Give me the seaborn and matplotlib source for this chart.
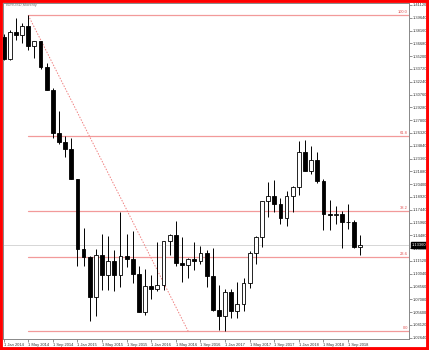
import matplotlib
matplotlib.use("Agg")
import matplotlib.pyplot as plt
from matplotlib.patches import Rectangle
import numpy as np
import pandas as pd
import seaborn as sns

# ---- data (EURUSD monthly candles, Jan 2014 .. Nov 2018) ----
months = pd.date_range("2014-01-01", "2018-11-01", freq="MS")
opens = [1.3743, 1.3486, 1.3804, 1.3769, 1.3868, 1.3634, 1.3692, 1.3390, 1.3131, 1.2630, 1.2525, 1.2450,
         1.2098, 1.1290, 1.1197, 1.0731, 1.1224, 1.0987, 1.1147, 1.0985, 1.1213, 1.1177, 1.1004, 1.0564,
         1.0861, 1.0829, 1.0873, 1.1380, 1.1454, 1.1132, 1.1103, 1.1174, 1.1157, 1.1240, 1.0980, 1.0588,
         1.0517, 1.0797, 1.0574, 1.0651, 1.0895, 1.1242, 1.1425, 1.1842, 1.1908, 1.1813, 1.1646, 1.1904,
         1.2005, 1.2414, 1.2193, 1.2324, 1.2076, 1.1692, 1.1685, 1.1690, 1.1600, 1.1604, 1.1313]
highs = [1.3775, 1.3826, 1.3967, 1.3907, 1.3993, 1.3700, 1.3700, 1.3444, 1.3152, 1.2887, 1.2600, 1.2570,
         1.2105, 1.1534, 1.1215, 1.1290, 1.1467, 1.1436, 1.1278, 1.1714, 1.1460, 1.1495, 1.1095, 1.1058,
         1.0985, 1.1376, 1.1385, 1.1464, 1.1616, 1.1428, 1.1185, 1.1366, 1.1327, 1.1278, 1.1300, 1.0874,
         1.0829, 1.0829, 1.0906, 1.0950, 1.1268, 1.1446, 1.1846, 1.2070, 1.2092, 1.1880, 1.1961, 1.2023,
         1.2537, 1.2555, 1.2476, 1.2414, 1.2097, 1.1852, 1.1791, 1.1734, 1.1815, 1.1625, 1.1450]
lows = [1.3477, 1.3477, 1.3705, 1.3673, 1.3590, 1.3503, 1.3367, 1.3131, 1.2571, 1.2500, 1.2358, 1.2098,
        1.1098, 1.1098, 1.0457, 1.0520, 1.0818, 1.0819, 1.0808, 1.0848, 1.1085, 1.0896, 1.0557, 1.0522,
        1.0711, 1.0809, 1.0822, 1.1217, 1.1097, 1.0912, 1.0952, 1.1046, 1.1122, 1.0851, 1.0569, 1.0352,
        1.0340, 1.0494, 1.0494, 1.0569, 1.0839, 1.1119, 1.1312, 1.1662, 1.1717, 1.1575, 1.1554, 1.1717,
        1.1916, 1.2187, 1.2154, 1.2055, 1.1510, 1.1508, 1.1575, 1.1301, 1.1526, 1.1302, 1.1216]
closes = [1.3486, 1.3804, 1.3769, 1.3868, 1.3634, 1.3692, 1.3390, 1.3131, 1.2630, 1.2525, 1.2450, 1.2098,
          1.1290, 1.1197, 1.0731, 1.1224, 1.0987, 1.1147, 1.0985, 1.1213, 1.1177, 1.1004, 1.0564, 1.0861,
          1.0829, 1.0873, 1.1380, 1.1454, 1.1132, 1.1103, 1.1174, 1.1157, 1.1240, 1.0980, 1.0588, 1.0517,
          1.0797, 1.0574, 1.0651, 1.0895, 1.1242, 1.1425, 1.1842, 1.1908, 1.1813, 1.1646, 1.1904, 1.2005,
          1.2414, 1.2193, 1.2324, 1.2076, 1.1692, 1.1685, 1.1690, 1.1600, 1.1604, 1.1313, 1.1336]

fib_high = 1.3993
fib_low = 1.0340
fib_levels = [0.0, 23.6, 38.2, 61.8, 100.0]
fib_labels = ["0.0", "23.6", "38.2", "61.8", "100.0"]
fib_start_idx = 4     # May 2014
fib_end_idx = 30      # end point of the trend line

y_ticks = [round(1.41120 - k * 0.0148, 5) for k in range(27)]
x_tick_idx = list(range(0, 57, 4))
x_tick_labels = ["1 " + m.strftime("%b %Y") for m in months[::4]][:len(x_tick_idx)]

current_price = closes[-1]

# ---- drawing ----
sns.set_style("white")
plt.rcParams["font.family"] = ["Liberation Sans", "DejaVu Sans"]
FS = 2.9

fig = plt.figure(figsize=(4.29, 3.5), dpi=100)
fig.patch.set_facecolor("white")
ax = fig.add_axes([3 / 429, 11 / 350, 406 / 429, 336 / 350])

df = pd.DataFrame({"idx": np.arange(len(opens)), "open": opens, "high": highs,
                   "low": lows, "close": closes})
df["bottom"] = df[["open", "close"]].min(axis=1)
df["height"] = (df["close"] - df["open"]).abs().clip(lower=0.0004)
df["up"] = df["close"] >= df["open"]

# wicks
ax.vlines(df["idx"], df["low"], df["high"], color="black", lw=0.7, zorder=3)
# bodies
ax.bar(df["idx"], df["height"], bottom=df["bottom"], width=0.62,
       color=np.where(df["up"], "white", "black"), edgecolor="black",
       linewidth=0.6, zorder=4)

# current price line
ax.axhline(current_price, color="#d6d6d6", lw=0.7, zorder=1)

# fibonacci levels
fib_color = "#f29a9a"
for lvl, lab in zip(fib_levels, fib_labels):
    price = fib_low + (fib_high - fib_low) * lvl / 100.0
    ax.plot([fib_start_idx, 70], [price, price], color=fib_color, lw=0.9, zorder=2)
    ax.text(65.7, price + 0.001, lab, color="#e05050", fontsize=FS,
            ha="right", va="bottom", zorder=5)

trend = pd.DataFrame({"x": [fib_start_idx, fib_end_idx], "y": [fib_high, fib_low]})
sns.lineplot(data=trend, x="x", y="y", ax=ax, color="#f08080", lw=0.7,
             linestyle=(0, (1.5, 1.5)), zorder=2)

ax.set_xlim(-0.1, 65.9)
ax.set_ylim(1.0250, 1.4135)
ax.set_xlabel("")
ax.set_ylabel("")

# axes
ax.yaxis.tick_right()
ax.set_yticks(y_ticks)
ax.set_yticklabels([f"{v:.5f}" for v in y_ticks], fontsize=FS, color="#333333")
ax.set_xticks(x_tick_idx)
ax.set_xticklabels(x_tick_labels, fontsize=FS, color="#333333", ha="left")
ax.tick_params(axis="both", which="both", length=2, width=0.5, color="#666666", pad=0.8)
ax.tick_params(axis="y", right=True, left=False)
ax.tick_params(axis="x", bottom=True)
for sp in ax.spines.values():
    sp.set_color("#888888")
    sp.set_linewidth(0.7)

# current price box
ax.annotate(f"{current_price:.5f}", xy=(1.0, current_price), xycoords=("axes fraction", "data"),
            xytext=(2.2, 0), textcoords="offset points", fontsize=FS, color="white",
            ha="left", va="center",
            bbox=dict(boxstyle="square,pad=0.15", fc="black", ec="black"), zorder=10,
            annotation_clip=False)

# title text
fig.text(6 / 429, 1 - 5 / 350, "EURUSD,Monthly", fontsize=FS, color="#777777",
         ha="left", va="center")

# red frame
fig.patches.append(Rectangle((0, 0), 1, 1, transform=fig.transFigure, fill=False,
                             edgecolor="#ff0000", linewidth=4.2, zorder=100))

fig.savefig("out.png", dpi=100, facecolor="white")
